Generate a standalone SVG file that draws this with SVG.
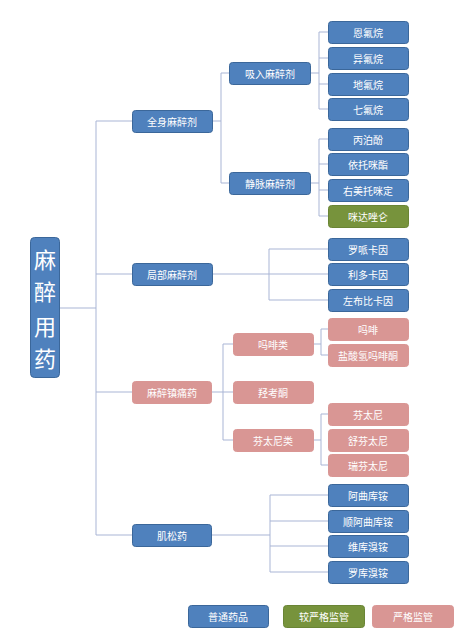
<svg xmlns="http://www.w3.org/2000/svg" width="468" height="633" viewBox="0 0 468 633">
<style>
.b{fill:#4F81BD;stroke:#3B679A;stroke-width:1}
.g{fill:#77933C;stroke:#6A8535;stroke-width:1}
.p{fill:#D99694;stroke:#D99694;stroke-width:1}
text{font-family:"Noto Sans CJK SC","Liberation Sans",sans-serif;font-size:10px;fill:#FFFFFF;text-anchor:middle;dominant-baseline:central}
.root{font-size:22px}
#connectors path{fill:none;stroke:#A9B5D5;stroke-width:1}
</style>
<rect width="468" height="633" fill="#FFFFFF"/>
<g id="connectors">
<path d="M59 308H96M96 121V535M96 121H132M96 274H132M96 392H132M96 535H132"/>
<path d="M212 121H221M221 73V183M221 73H229M221 183H229"/>
<path d="M310 73H319M319 32V109M319 32H328M319 58H328M319 84H328M319 109H328"/>
<path d="M310 183H319M319 139V216M319 139H328M319 164H328M319 190H328M319 216H328"/>
<path d="M212 274H328M269 249V300M269 249H328M269 300H328"/>
<path d="M212 392H233M223 344V440M223 344H233M223 440H233"/>
<path d="M313 344H321M321 329V355M321 329H328M321 355H328"/>
<path d="M313 440H321M321 414V465M321 414H328M321 465H328"/>
<path d="M212 535H270M270 495V572M270 495H328M270 521H328M270 546H328M270 572H328"/>
</g>
<g id="root"><rect class="b" x="30.5" y="237.5" width="29" height="140" rx="4"/>
<text class="root" x="45" y="258">麻</text><text class="root" x="45" y="290">醉</text><text class="root" x="45" y="325">用</text><text class="root" x="45" y="357">药</text></g>
<g id="n-quanshen"><rect class="b" x="132.5" y="110.5" width="80" height="22" rx="3"/><text x="172" y="121.5">全身麻醉剂</text></g>
<g id="n-jubu"><rect class="b" x="132.5" y="263.5" width="80" height="22" rx="3"/><text x="172" y="274.5">局部麻醉剂</text></g>
<g id="n-zhentong"><rect class="p" x="132.5" y="381.5" width="79" height="22" rx="3"/><text x="172" y="392.5">麻醉镇痛药</text></g>
<g id="n-jisong"><rect class="b" x="132.5" y="524.5" width="79" height="22" rx="3"/><text x="172" y="535.5">肌松药</text></g>
<g id="n-xiru"><rect class="b" x="229.5" y="62.5" width="81" height="22" rx="3"/><text x="270" y="73.5">吸入麻醉剂</text></g>
<g id="n-jingmai"><rect class="b" x="229.5" y="172.5" width="81" height="22" rx="3"/><text x="270" y="183.5">静脉麻醉剂</text></g>
<g id="n-mafeilei"><rect class="p" x="233.5" y="333.5" width="80" height="22" rx="3"/><text x="273" y="344.5">吗啡类</text></g>
<g id="n-qiangkaotong"><rect class="p" x="233.5" y="381.5" width="80" height="22" rx="3"/><text x="273" y="392.5">羟考酮</text></g>
<g id="n-fentainilei"><rect class="p" x="233.5" y="429.5" width="80" height="22" rx="3"/><text x="273" y="440.5">芬太尼类</text></g>
<g id="n-enfuwan"><rect class="b" x="328.5" y="21.5" width="80" height="22" rx="3"/><text x="368" y="32.5">恩氟烷</text></g>
<g id="n-yifuwan"><rect class="b" x="328.5" y="47.5" width="80" height="22" rx="3"/><text x="368" y="58.5">异氟烷</text></g>
<g id="n-difuwan"><rect class="b" x="328.5" y="73.5" width="80" height="22" rx="3"/><text x="368" y="84.5">地氟烷</text></g>
<g id="n-qifuwan"><rect class="b" x="328.5" y="98.5" width="80" height="22" rx="3"/><text x="368" y="109.5">七氟烷</text></g>
<g id="n-bingbofen"><rect class="b" x="328.5" y="128.5" width="80" height="22" rx="3"/><text x="368" y="139.5">丙泊酚</text></g>
<g id="n-yituomizhi"><rect class="b" x="328.5" y="153.5" width="80" height="22" rx="3"/><text x="368" y="164.5">依托咪酯</text></g>
<g id="n-youmei"><rect class="b" x="328.5" y="179.5" width="80" height="22" rx="3"/><text x="368" y="190.5">右美托咪定</text></g>
<g id="n-midazuolun"><rect class="g" x="328.5" y="205.5" width="80" height="22" rx="3"/><text x="368" y="216.5">咪达唑仑</text></g>
<g id="n-luopai"><rect class="b" x="328.5" y="238.5" width="80" height="22" rx="3"/><text x="368" y="249.5">罗哌卡因</text></g>
<g id="n-liduo"><rect class="b" x="328.5" y="263.5" width="80" height="22" rx="3"/><text x="368" y="274.5">利多卡因</text></g>
<g id="n-zuobubi"><rect class="b" x="328.5" y="289.5" width="80" height="22" rx="3"/><text x="368" y="300.5">左布比卡因</text></g>
<g id="n-mafei"><rect class="p" x="328.5" y="318.5" width="80" height="22" rx="3"/><text x="368" y="329.5">吗啡</text></g>
<g id="n-qingmafeitong"><rect class="p" x="328.5" y="344.5" width="80" height="22" rx="3"/><text x="368" y="355.5">盐酸氢吗啡酮</text></g>
<g id="n-fentaini"><rect class="p" x="328.5" y="403.5" width="80" height="22" rx="3"/><text x="368" y="414.5">芬太尼</text></g>
<g id="n-shufentaini"><rect class="p" x="328.5" y="429.5" width="80" height="22" rx="3"/><text x="368" y="440.5">舒芬太尼</text></g>
<g id="n-ruifentaini"><rect class="p" x="328.5" y="454.5" width="80" height="22" rx="3"/><text x="368" y="465.5">瑞芬太尼</text></g>
<g id="n-aqukuan"><rect class="b" x="328.5" y="484.5" width="80" height="22" rx="3"/><text x="368" y="495.5">阿曲库铵</text></g>
<g id="n-shunaqukuan"><rect class="b" x="328.5" y="510.5" width="80" height="22" rx="3"/><text x="368" y="521.5">顺阿曲库铵</text></g>
<g id="n-weikuxiuan"><rect class="b" x="328.5" y="535.5" width="80" height="22" rx="3"/><text x="368" y="546.5">维库溴铵</text></g>
<g id="n-luokuxiuan"><rect class="b" x="328.5" y="561.5" width="80" height="22" rx="3"/><text x="368" y="572.5">罗库溴铵</text></g>
<g id="legend-normal"><rect class="b" x="188.5" y="605.5" width="80" height="22" rx="3"/><text x="228" y="616.5">普通药品</text></g>
<g id="legend-stricter"><rect class="g" x="283.5" y="605.5" width="81" height="22" rx="3"/><text x="324" y="616.5">较严格监管</text></g>
<g id="legend-strict"><rect class="p" x="372.5" y="605.5" width="81" height="22" rx="3"/><text x="413" y="616.5">严格监管</text></g>
</svg>
